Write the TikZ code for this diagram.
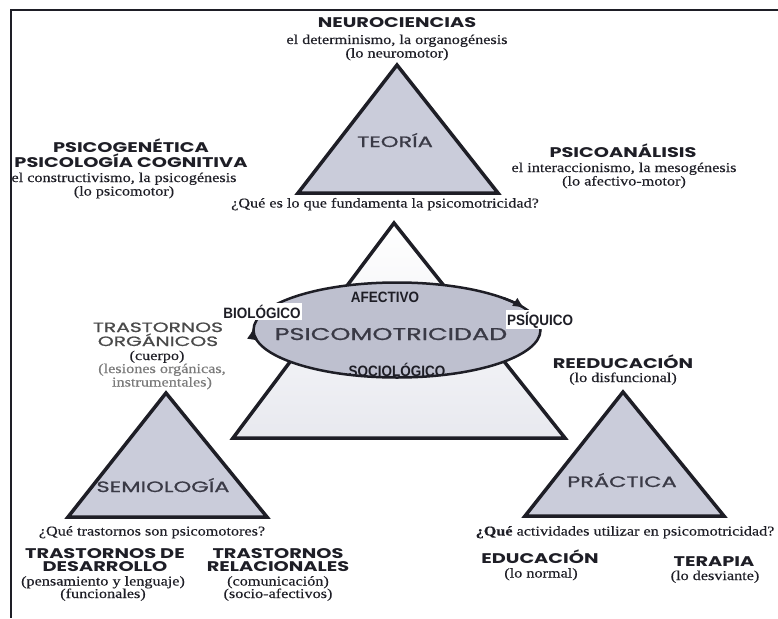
\documentclass[tikz,border=0pt]{standalone}
\usepackage{fontspec}
\setmainfont{Liberation Serif}
\newfontfamily\headfont{Poppins}[FakeStretch=1.38]
\newfontfamily\labfont{Poppins}[FakeStretch=1.5, FakeBold=1]
\newfontfamily\condfont{Liberation Sans}[FakeStretch=0.9]
\newfontfamily\serfont{Liberation Serif}[FakeStretch=1.2, FakeBold=0.4]
\usetikzlibrary{
  arrows.meta,
  calc,
  shapes.geometric,
  positioning}

\definecolor{trifill}{HTML}{CACCDA}
\definecolor{ellfill}{HTML}{BEC0CF}
\definecolor{midfill}{HTML}{E8E9EF}
\definecolor{inkcol}{HTML}{1E1E26}
\definecolor{labcol}{HTML}{3A3A46}
\definecolor{greytxt}{HTML}{4A4A4A}
\definecolor{lightgrey}{HTML}{7A7A7A}

\tikzset{
  head/.style={font=\headfont\bfseries\fontsize{14}{15.5}\selectfont, align=center,
    inner sep=0pt, anchor=base, text=inkcol},
  sub/.style={font=\serfont\fontsize{13.5}{13.5}\selectfont, align=center,
    inner sep=0pt, anchor=base, text=inkcol},
  trilab/.style={font=\labfont\fontsize{15}{16}\selectfont, inner sep=0pt,
    anchor=base, text=labcol},
  psilab/.style={font=\labfont\fontsize{17}{18}\selectfont, inner sep=0pt,
    anchor=base, text=labcol},
  cond/.style={font=\condfont\bfseries\fontsize{15}{16}\selectfont, inner sep=1.5pt,
    anchor=base, text=inkcol},
  tri/.style={draw=inkcol, line width=3.5pt, fill=trifill},
  midtri/.style={draw=inkcol, line width=3.5pt, top color=white, bottom color=midfill},
  cycarrow/.style={draw=inkcol, line width=2.5pt, -{Latex[length=12pt,width=10pt]}},
  frame/.style={draw=inkcol, line width=2pt}
}

\begin{document}
\begin{tikzpicture}[x=1pt,y=-1pt]
  \useasboundingbox (0,0) rectangle (778,618);
  % marco
  \coordinate (fTR) at (778,10);
  \coordinate (fTL) at (11,10);
  \coordinate (fBL) at (11,618);
  \draw[frame] (fTR) -- (fTL) -- (fBL);

  % triangulo central y elipse
  \coordinate (midA) at (394,223);
  \coordinate (midL) at (233,438);
  \coordinate (midR) at (565,438);
  \draw[midtri] (midA) -- (midR) -- (midL) -- cycle;
  \node[ellipse, draw=inkcol, line width=2.5pt, fill=ellfill,
    minimum width=287pt, minimum height=95pt] (psico) at (397,330) {};
  \draw[cycarrow] ($(psico.center)+(168:143.5 and 47.5)$)
    arc[start angle=168, end angle=183, x radius=143.5, y radius=47.5];
  \draw[cycarrow] ($(psico.center)+(318:143.5 and 47.5)$)
    arc[start angle=318, end angle=333, x radius=143.5, y radius=47.5];
  \node[cond] (afect) at (385,302) {AFECTIVO};
  \node[psilab] (psicotxt) at (391,340) {PSICOMOTRICIDAD};
  \node[cond] (socio) at (397,376) {SOCIOLÓGICO};
  \node[cond, fill=white] (bio) at (262,318) {BIOLÓGICO};
  \node[cond, fill=white] (psiq) at (540,325) {PSÍQUICO};

  % teoria
  \coordinate (teoA) at (397,65);
  \coordinate (teoL) at (298,193);
  \coordinate (teoR) at (498,193);
  \draw[tri] (teoA) -- (teoR) -- (teoL) -- cycle;
  \node[trilab] (teoria) at (395,147) {TEORÍA};
  \node[head] (neuro) at (397,28) {NEUROCIENCIAS};
  \node[sub] (neurosub) at (397,57.5) {el determinismo, la organogénesis\\(lo neuromotor)};
  \node[sub] (preg1) at (385,207.5) {¿Qué es lo que fundamenta la psicomotricidad?};
  \node[head] (psicogen) at (131,167.5) {PSICOGENÉTICA\\PSICOLOGÍA COGNITIVA};
  \node[sub] (psicogensub) at (124,195.5) {el constructivismo, la psicogénesis\\(lo psicomotor)};
  \node[head] (psicoan) at (623,157) {PSICOANÁLISIS};
  \node[sub] (psicoansub) at (624,185.5) {el interaccionismo, la mesogénesis\\(lo afectivo-motor)};

  % semiologia
  \coordinate (semA) at (166,393);
  \coordinate (semL) at (68,517);
  \coordinate (semR) at (267,517);
  \draw[tri] (semA) -- (semR) -- (semL) -- cycle;
  \node[trilab] (semio) at (163,492) {SEMIOLOGÍA};
  \node[head, font=\labfont\fontsize{13.5}{14}\selectfont, text=greytxt] (organ) at (158,346) {TRASTORNOS\\ORGÁNICOS};
  \node[sub] (cuerpo) at (157,360) {(cuerpo)};
  \node[sub, text=lightgrey] (lesion) at (162,386.5) {(lesiones orgánicas,\\instrumentales)};
  \node[sub] (preg2) at (152,535.5) {¿Qué trastornos son psicomotores?};
  \node[head, font=\headfont\bfseries\fontsize{14}{13}\selectfont] (desarr) at (105,571) {TRASTORNOS DE\\DESARROLLO};
  \node[sub, font=\serfont\fontsize{13.5}{12.5}\selectfont] (desarrsub) at (103,598) {(pensamiento y lenguaje)\\(funcionales)};
  \node[head, font=\headfont\bfseries\fontsize{14}{13}\selectfont] (relac) at (278,571) {TRASTORNOS\\RELACIONALES};
  \node[sub, font=\serfont\fontsize{13.5}{12.5}\selectfont] (relacsub) at (278,598) {(comunicación)\\(socio-afectivos)};

  % practica
  \coordinate (praA) at (623,392);
  \coordinate (praL) at (525,516);
  \coordinate (praR) at (724,516);
  \draw[tri] (praA) -- (praR) -- (praL) -- cycle;
  \node[trilab] (pract) at (622,487) {PRÁCTICA};
  \node[head] (reedu) at (623,368) {REEDUCACIÓN};
  \node[sub] (reedusub) at (623,382) {(lo disfuncional)};
  \node[sub] (preg3) at (625,535.5) {\textbf{¿Qué} actividades utilizar en psicomotricidad?};
  \node[head] (educ) at (540,563) {EDUCACIÓN};
  \node[sub] (educsub) at (541,577.5) {(lo normal)};
  \node[head] (terap) at (714,566) {TERAPIA};
  \node[sub] (terapsub) at (715,580) {(lo desviante)};
\end{tikzpicture}
\end{document}
